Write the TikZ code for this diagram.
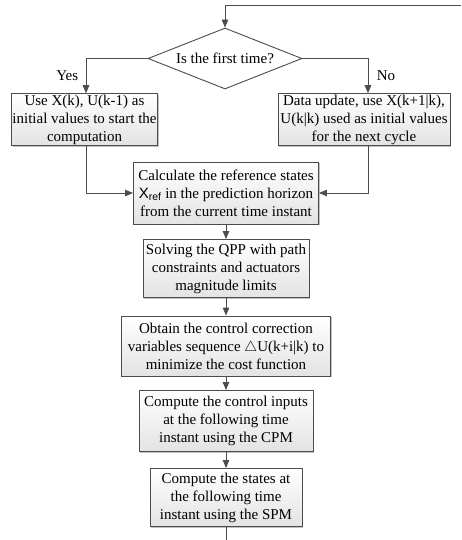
\documentclass[tikz,border=0pt]{standalone}
\usepackage{fontspec}
\setmainfont{Liberation Serif}
\newfontfamily\arialfont{Liberation Sans}
\usepackage{tikz}
\usetikzlibrary{arrows.meta,positioning,shapes.geometric,shadows}
\newcommand{\xref}{{\arialfont X\textsubscript{ref}}}

\begin{document}
\begin{tikzpicture}[x=1pt, y=1pt,
      line/.style={draw=black!70, line width=0.9pt},
      box/.style={line, align=center, inner sep=1pt, font=\fontsize{15}{18}\selectfont,
        top color=white, bottom color=black!11,
        drop shadow={shadow xshift=1.3pt, shadow yshift=-1.3pt, fill=black!30, opacity=0.8}},
      decision/.style={line, diamond, aspect=2.5, inner sep=0pt, fill=white,
        font=\fontsize{15}{18}\selectfont, minimum width=154pt, minimum height=61pt},
      arr/.style={line, -{Triangle[length=8pt, width=6.5pt]}},
      lbl/.style={font=\fontsize{15}{18}\selectfont}]
    \useasboundingbox (0,0) rectangle (461,-540);
    \node[decision] (first) at (225,-58.5) {Is the first time?};
    \node[box, minimum width=145pt, minimum height=51pt] (init) at (84.5,-119.5)
      {Use X(k), U(k-1) as\\initial values to start the\\computation};
    \node[box, minimum width=172pt, minimum height=51pt] (update) at (364,-119.5)
      {Data update, use X(k+1\textbar k),\\U(k\textbar k) used as initial values\\for the next cycle};
    \node[box, minimum width=185pt, minimum height=62pt] (refstate) at (226,-193)
      {Calculate the reference states\\\xref{} in the prediction horizon\\from the current time instant};
    \node[box, minimum width=166pt, minimum height=58pt] (qpp) at (226,-268.5)
      {Solving the QPP with path\\constraints and actuators\\magnitude limits};
    \node[box, minimum width=209pt, minimum height=60pt] (correct) at (226,-346)
      {Obtain the control correction\\variables sequence $\triangle$U(k+i\textbar k) to\\minimize the cost function};
    \node[box, minimum width=174pt, minimum height=61pt] (cpm) at (226,-421)
      {Compute the control inputs\\at the following time\\instant using the CPM};
    \node[box, minimum width=152pt, minimum height=58pt] (spm) at (226,-497.5)
      {Compute the states at\\the following time\\instant using the SPM};
    \coordinate (loopin) at (461,-5);
    \coordinate (loopout) at (226,-540);
    \coordinate (yesturn) at (86,-58.5);
    \coordinate (noturn) at (368,-58.5);
    % loop back into the decision
    \draw[arr] (loopin) -| (first.north);
    \draw[arr] (first.west) -| (init.north -| yesturn) node[lbl, pos=0.75, left=4pt] {Yes};
    \draw[arr] (first.east) -| (update.north -| noturn) node[lbl, pos=0.75, right=5pt] {No};
    \draw[arr] (init.south -| yesturn) |- (refstate.west);
    \draw[arr] (update.south -| noturn) |- (refstate.east);
    \draw[arr] (refstate) -- (qpp);
    \draw[arr] (qpp) -- (correct);
    \draw[arr] (correct) -- (cpm);
    \draw[arr] (cpm) -- (spm);
    \draw[line] (spm) -- (loopout);
  \end{tikzpicture}
\end{document}
